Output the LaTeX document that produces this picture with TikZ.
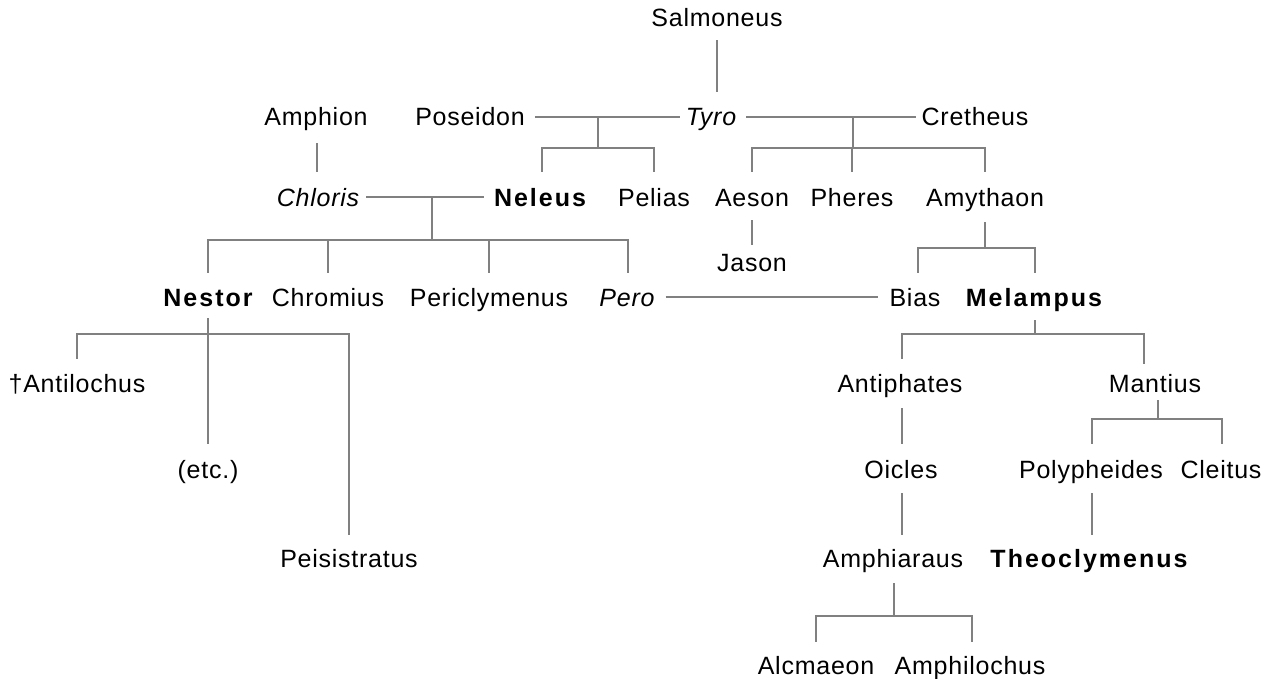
\documentclass[tikz,border=0pt]{standalone}
\usepackage{fontspec}
\setmainfont{Liberation Sans}[LetterSpace=3]
\newfontfamily\spfam{Liberation Sans}[LetterSpace=8]
\usetikzlibrary{calc}
\definecolor{lc}{RGB}{128,128,128}
\begin{document}
\begin{tikzpicture}[x=1pt,y=-1pt,
  nm/.style={inner sep=0pt, text height=18pt, text depth=0pt, font=\fontsize{25}{30}\selectfont},
  it/.style={nm, font=\fontsize{25}{30}\selectfont\itshape},
  bd/.style={nm, font=\fontsize{25}{30}\selectfont\spfam\bfseries},
  ln/.style={draw=lc, line width=2.9pt}]
\useasboundingbox (0,0) rectangle (1273,679);
% nodes
\node[nm] (salm) at (717,18) {Salmoneus};
\node[nm] (amphion) at (316,117) {Amphion};
\node[nm] (poseidon) at (470,117) {Poseidon};
\node[it] (tyro) at (711,117) {Tyro};
\node[nm] (cretheus) at (975,117) {Cretheus};
\node[it] (chloris) at (318,197) {Chloris};
\node[bd] (neleus) at (540,197) {Neleus};
\node[nm] (pelias) at (654,197) {Pelias};
\node[nm] (aeson) at (752,197) {Aeson};
\node[nm] (pheres) at (852,197) {Pheres};
\node[nm] (amythaon) at (985,197) {Amythaon};
\node[nm] (jason) at (752,262) {Jason};
\node[bd] (nestor) at (208,297) {Nestor};
\node[nm] (chromius) at (328,297) {Chromius};
\node[nm] (pericly) at (489,297) {Periclymenus};
\node[it] (pero) at (627,297) {Pero};
\node[nm] (bias) at (915,297) {Bias};
\node[bd] (melampus) at (1034,297) {Melampus};
\node[nm] (antilochus) at (77,383) {†Antilochus};
\node[nm] (etc) at (208,469) {(etc.)};
\node[nm] (peisis) at (349,558) {Peisistratus};
\node[nm] (antiphates) at (900,383) {Antiphates};
\node[nm] (mantius) at (1155,383) {Mantius};
\node[nm] (oicles) at (901,469) {Oicles};
\node[nm] (polyph) at (1091,469) {Polypheides};
\node[nm] (cleitus) at (1221,469) {Cleitus};
\node[nm] (amphiaraus) at (893,558) {Amphiaraus};
\node[bd] (theoc) at (1089,558) {Theoclymenus};
\node[nm] (alcmaeon) at (816,665) {Alcmaeon};
\node[nm] (amphilochus) at (970,665) {Amphilochus};
% junction coordinates
\coordinate (bPT) at (598,148);
\coordinate (bTC) at (853,148);
\coordinate (bCN) at (432,240);
\coordinate (bAm) at (985,248);
\coordinate (bNe) at (208,334);
\coordinate (bMe) at (1035,334);
\coordinate (bMa) at (1158,419);
\coordinate (bAa) at (894,616);
% Salmoneus - Tyro
\draw[ln] ($(salm.south)+(0,13)$) -- ($(salm.south |- tyro.north)+(0,-16)$);
% Poseidon = Tyro
\draw[ln] ($(poseidon.east)+(10,0)$) -- ($(tyro.west)+(-6,0)$);
\draw[ln] (bPT |- tyro) -- (bPT);
\draw[ln] ($(neleus.north)+(2,-16)$) |- (bPT) -| ($(pelias.north)+(0,-16)$);
% Tyro = Cretheus
\draw[ln] ($(tyro.east)+(10,0)$) -- ($(cretheus.west)+(-5,0)$);
\draw[ln] (bTC |- tyro) -- (bTC);
\draw[ln] ($(aeson.north)+(0,-16)$) |- (bTC) -| ($(amythaon.north)+(0,-16)$);
\draw[ln] (bTC -| pheres) -- ($(pheres.north)+(0,-16)$);
% Amphion - Chloris
\draw[ln] ($(amphion.south)+(1,17)$) -- ($(amphion.south |- chloris.north)+(1,-16)$);
% Chloris = Neleus
\draw[ln] ($(chloris.east)+(7,0)$) -- ($(neleus.west)+(-10,0)$);
\draw[ln] (bCN |- neleus) -- (bCN);
\draw[ln] ($(nestor.north)+(0,-15)$) |- (bCN) -| ($(pero.north)+(1,-15)$);
\draw[ln] (bCN -| chromius) -- ($(chromius.north)+(0,-15)$);
\draw[ln] (bCN -| pericly) -- ($(pericly.north)+(0,-15)$);
% Aeson - Jason
\draw[ln] ($(aeson.south)+(0,14)$) -- ($(jason.north)+(0,-8)$);
% Amythaon children
\draw[ln] ($(amythaon.south)+(0,16)$) -- (bAm);
\draw[ln] ($(bias.north)+(3,-15)$) |- (bAm) -| ($(melampus.north)+(1,-15)$);
% Pero = Bias
\draw[ln] ($(pero.east)+(11,0)$) -- ($(bias.west)+(-11,0)$);
% Nestor children
\draw[ln] ($(nestor.south)+(0,12)$) -- ($(etc.north)+(0,-16)$);
\draw[ln] ($(antilochus.north)+(0,-15)$) |- (bNe) -| ($(peisis.north)+(0,-14)$);
% Melampus children
\draw[ln] ($(melampus.south)+(1,14)$) -- (bMe);
\draw[ln] ($(antiphates.north)+(2,-15)$) |- (bMe) -| ($(mantius.north)+(-11,-10)$);
% Antiphates - Oicles - Amphiaraus
\draw[ln] ($(antiphates.south)+(2,16)$) -- ($(antiphates.south |- oicles.north)+(2,-16)$);
\draw[ln] ($(oicles.south)+(1,15)$) -- ($(oicles.south |- amphiaraus.north)+(1,-14)$);
% Mantius children
\draw[ln] ($(mantius.south)+(3,8)$) -- (bMa);
\draw[ln] ($(polyph.north)+(1,-16)$) |- (bMa) -| ($(cleitus.north)+(1,-16)$);
% Polypheides - Theoclymenus
\draw[ln] ($(polyph.south)+(1,15)$) -- ($(polyph.south |- theoc.north)+(1,-14)$);
% Amphiaraus children
\draw[ln] ($(amphiaraus.south)+(1,16)$) -- (bAa);
\draw[ln] ($(alcmaeon.north)+(0,-14)$) |- (bAa) -| ($(amphilochus.north)+(2,-14)$);
\end{tikzpicture}
\end{document}
